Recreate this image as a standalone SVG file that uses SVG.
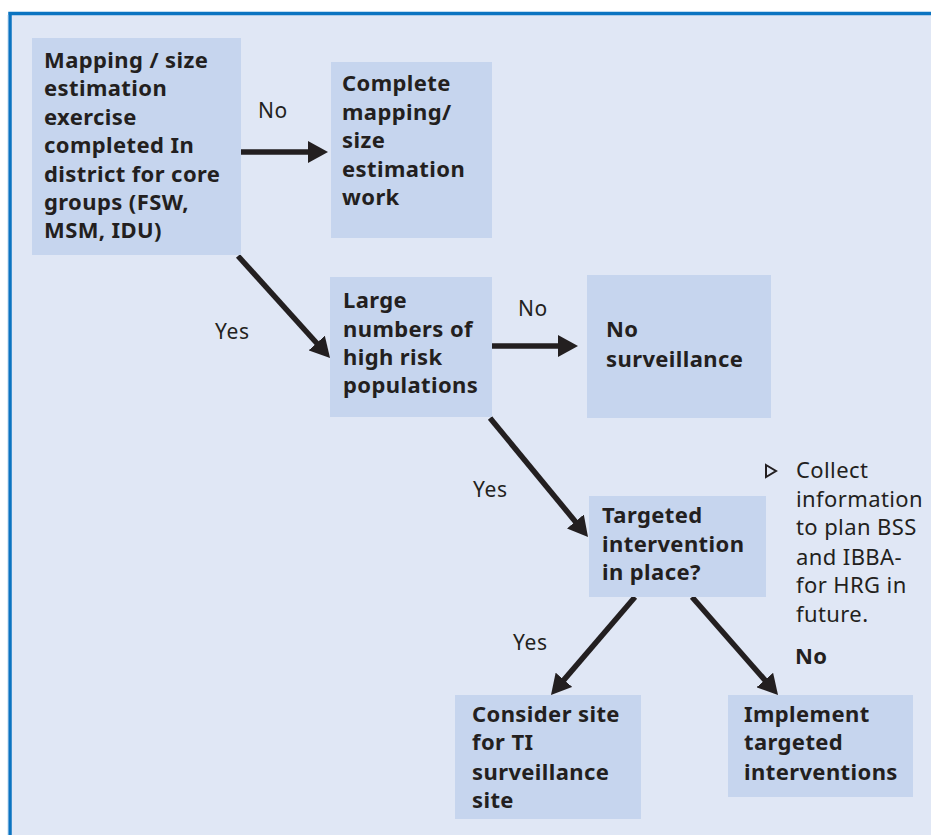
<svg xmlns="http://www.w3.org/2000/svg" width="931" height="835" viewBox="0 0 931 835">
<defs>
<style>
.node{fill:#c6d5ee;}
.t{font-family:"Noto Sans","Open Sans","DejaVu Sans",sans-serif;font-size:22px;letter-spacing:0.4px;fill:#231f20;}
.b{font-weight:bold;}
.lbl{font-family:"Noto Sans","Open Sans","DejaVu Sans",sans-serif;font-size:21px;letter-spacing:0.6px;fill:#231f20;}
.conn{stroke:#231f20;stroke-width:5.5;fill:none;marker-end:url(#ah);}
</style>
<marker id="ah" viewBox="0 0 20 22" refX="8" refY="11" markerWidth="20" markerHeight="22" markerUnits="userSpaceOnUse" orient="auto">
<path d="M0,0 L20,11 L0,22 z" fill="#231f20"/>
</marker>
</defs>
<rect x="0" y="0" width="931" height="835" fill="#ffffff"/>
<rect x="10" y="13.5" width="940" height="840" fill="#e0e7f5" stroke="#0b74c1" stroke-width="3.5"/>
<line x1="8.2" y1="15" x2="8.2" y2="835" stroke="#7fb3df" stroke-width="0.8"/>

<g id="connectors">
<line class="conn" x1="241" y1="152" x2="316" y2="152"/>
<line class="conn" x1="490" y1="346" x2="566" y2="346"/>
<line class="conn" x1="238" y1="256" x2="322" y2="349"/>
<line class="conn" x1="490" y1="418" x2="580.4" y2="527.7"/>
<line class="conn" x1="635" y1="597" x2="558.8" y2="685.9"/>
<line class="conn" x1="692" y1="597" x2="770.1" y2="686"/>
<text class="lbl" x="258" y="118">No</text>
<text class="lbl" x="518" y="316">No</text>
<text class="lbl" x="215" y="339">Yes</text>
<text class="lbl" x="473" y="497">Yes</text>
<text class="lbl" x="513" y="650">Yes</text>
<text class="t b" x="795" y="664">No</text>
</g>

<g id="n1">
<rect class="node" x="32" y="38" width="209" height="217"/>
<text class="t b"><tspan x="44" y="68">Mapping / size</tspan><tspan x="44" y="96">estimation</tspan><tspan x="44" y="125">exercise</tspan><tspan x="44" y="153">completed In</tspan><tspan x="44" y="182">district for core</tspan><tspan x="44" y="210">groups (FSW,</tspan><tspan x="44" y="238">MSM, IDU)</tspan></text>
</g>
<g id="n2">
<rect class="node" x="331" y="62" width="161" height="176"/>
<text class="t b"><tspan x="342" y="91">Complete</tspan><tspan x="342" y="120">mapping/</tspan><tspan x="342" y="148">size</tspan><tspan x="342" y="177">estimation</tspan><tspan x="342" y="205">work</tspan></text>
</g>
<g id="n3">
<rect class="node" x="330" y="277" width="162" height="140"/>
<text class="t b"><tspan x="343" y="308">Large</tspan><tspan x="343" y="337">numbers of</tspan><tspan x="343" y="365">high risk</tspan><tspan x="343" y="393">populations</tspan></text>
</g>
<g id="n4">
<rect class="node" x="587" y="275" width="184" height="143"/>
<text class="t b"><tspan x="606" y="337">No</tspan><tspan x="606" y="367">surveillance</tspan></text>
</g>
<g id="n5">
<rect class="node" x="589" y="496" width="177" height="101"/>
<text class="t b"><tspan x="602" y="523">Targeted</tspan><tspan x="602" y="552">intervention</tspan><tspan x="602" y="580">in place?</tspan></text>
</g>
<g id="note">
<path d="M766,465 L776,471 L766,477 z" fill="none" stroke="#231f20" stroke-width="2"/>
<text class="t"><tspan x="796" y="478">Collect</tspan><tspan x="796" y="507">information</tspan><tspan x="796" y="535">to plan BSS</tspan><tspan x="796" y="565">and IBBA-</tspan><tspan x="796" y="593">for HRG in</tspan><tspan x="796" y="622">future.</tspan></text>
</g>
<g id="n6">
<rect class="node" x="455" y="695" width="186" height="124"/>
<text class="t b"><tspan x="472" y="722">Consider site</tspan><tspan x="472" y="750">for TI</tspan><tspan x="472" y="780">surveillance</tspan><tspan x="472" y="808">site</tspan></text>
</g>
<g id="n7">
<rect class="node" x="728" y="695" width="185" height="102"/>
<text class="t b"><tspan x="744" y="722">Implement</tspan><tspan x="744" y="750">targeted</tspan><tspan x="744" y="780">interventions</tspan></text>
</g>
</svg>
